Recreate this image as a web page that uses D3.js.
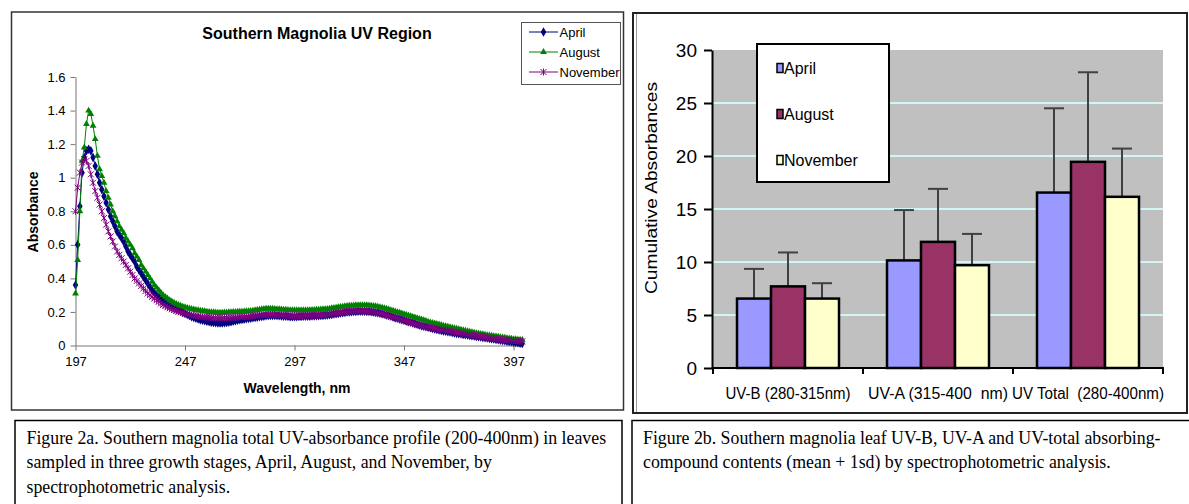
<!DOCTYPE html>
<html>
<head>
<meta charset="utf-8">
<script src="https://cdn.jsdelivr.net/npm/d3@7/dist/d3.min.js"></script>
<style>
body { margin: 0; background: #fff; }
svg { display: block; }
text { font-family: "Liberation Sans", Arial, sans-serif; }
.caption { font-family: "Liberation Serif", "Times New Roman", serif; }
</style>
</head>
<body>
<svg id="fig" width="1189" height="504"></svg>
<script>
// ---- figure 2a data: absorbance, one reading per nm from 197 to 401 ----
var wavelengths = d3.range(197, 402);

var april = [
  0.36, 0.60, 0.83, 1.03, 1.12, 1.16, 1.17, 1.16, 1.12, 1.07,
  1.02, 0.97, 0.93, 0.89, 0.85, 0.81, 0.77, 0.74, 0.71, 0.68,
  0.66, 0.64, 0.62, 0.59, 0.56, 0.54, 0.52, 0.50, 0.47, 0.45,
  0.43, 0.41, 0.39, 0.37, 0.35, 0.33, 0.315, 0.30, 0.29, 0.28,
  0.27, 0.26, 0.25, 0.24, 0.232, 0.225, 0.218, 0.21, 0.203, 0.197,
  0.19, 0.184, 0.178, 0.172, 0.167, 0.162, 0.158, 0.154, 0.15, 0.147,
  0.144, 0.141, 0.139, 0.137, 0.135, 0.134, 0.134, 0.134, 0.135, 0.137,
  0.139, 0.141, 0.144, 0.147, 0.15, 0.153, 0.155, 0.157, 0.159, 0.161,
  0.163, 0.165, 0.167, 0.169, 0.171, 0.173, 0.175, 0.177, 0.178, 0.179,
  0.179, 0.179, 0.178, 0.177, 0.176, 0.175, 0.174, 0.173, 0.172, 0.172,
  0.172, 0.172, 0.173, 0.173, 0.174, 0.174, 0.175, 0.175, 0.176, 0.176,
  0.177, 0.177, 0.178, 0.179, 0.18, 0.181, 0.183, 0.185, 0.187, 0.189,
  0.191, 0.193, 0.195, 0.197, 0.199, 0.2, 0.201, 0.202, 0.203, 0.204,
  0.204, 0.204, 0.204, 0.203, 0.202, 0.201, 0.199, 0.197, 0.195, 0.192,
  0.189, 0.186, 0.182, 0.178, 0.174, 0.17, 0.166, 0.162, 0.158, 0.154,
  0.15, 0.146, 0.142, 0.138, 0.134, 0.13, 0.126, 0.122, 0.118, 0.114,
  0.111, 0.108, 0.105, 0.102, 0.099, 0.096, 0.093, 0.09, 0.087, 0.085,
  0.082, 0.08, 0.077, 0.075, 0.072, 0.07, 0.068, 0.066, 0.064, 0.062,
  0.06, 0.058, 0.056, 0.054, 0.052, 0.05, 0.048, 0.046, 0.044, 0.042,
  0.04, 0.038, 0.036, 0.034, 0.032, 0.03, 0.028, 0.026, 0.024, 0.022,
  0.02, 0.018, 0.016, 0.014, 0.012
];

var august = [
  0.31, 0.51, 0.80, 1.10, 1.18, 1.32, 1.40, 1.38, 1.31, 1.23,
  1.13, 1.05, 1.01, 0.97, 0.92, 0.88, 0.84, 0.80, 0.77, 0.74,
  0.71, 0.69, 0.67, 0.64, 0.62, 0.60, 0.58, 0.55, 0.53, 0.51,
  0.48, 0.46, 0.44, 0.42, 0.40, 0.38, 0.36, 0.345, 0.33, 0.315,
  0.30, 0.29, 0.28, 0.27, 0.262, 0.255, 0.248, 0.242, 0.237, 0.232,
  0.228, 0.224, 0.221, 0.218, 0.215, 0.212, 0.21, 0.208, 0.206, 0.204,
  0.202, 0.2, 0.199, 0.198, 0.197, 0.196, 0.196, 0.196, 0.197, 0.197,
  0.198, 0.199, 0.2, 0.2, 0.201, 0.202, 0.202, 0.203, 0.204, 0.205,
  0.206, 0.208, 0.21, 0.212, 0.214, 0.216, 0.218, 0.219, 0.22, 0.22,
  0.219, 0.218, 0.217, 0.216, 0.215, 0.214, 0.213, 0.212, 0.211, 0.211,
  0.21, 0.21, 0.21, 0.21, 0.21, 0.21, 0.211, 0.211, 0.212, 0.212,
  0.213, 0.214, 0.215, 0.216, 0.217, 0.218, 0.22, 0.222, 0.224, 0.226,
  0.228, 0.23, 0.232, 0.234, 0.236, 0.237, 0.238, 0.239, 0.24, 0.24,
  0.241, 0.241, 0.241, 0.24, 0.239, 0.238, 0.236, 0.234, 0.232, 0.229,
  0.226, 0.223, 0.219, 0.215, 0.211, 0.207, 0.203, 0.199, 0.195, 0.191,
  0.187, 0.183, 0.179, 0.175, 0.171, 0.167, 0.163, 0.159, 0.155, 0.151,
  0.147, 0.142, 0.138, 0.134, 0.131, 0.128, 0.125, 0.122, 0.118, 0.115,
  0.112, 0.109, 0.106, 0.103, 0.1, 0.097, 0.094, 0.091, 0.088, 0.085,
  0.082, 0.079, 0.077, 0.074, 0.072, 0.069, 0.067, 0.064, 0.062, 0.06,
  0.058, 0.056, 0.054, 0.052, 0.05, 0.048, 0.046, 0.044, 0.042, 0.04,
  0.038, 0.037, 0.035, 0.034, 0.033
];

var november = [
  0.80, 0.94, 1.03, 1.09, 1.11, 1.10, 1.07, 1.02, 0.97, 0.92,
  0.88, 0.84, 0.80, 0.76, 0.72, 0.68, 0.65, 0.62, 0.59, 0.56,
  0.54, 0.52, 0.50, 0.48, 0.46, 0.44, 0.42, 0.40, 0.385, 0.37,
  0.355, 0.34, 0.325, 0.31, 0.30, 0.29, 0.28, 0.27, 0.26, 0.25,
  0.242, 0.235, 0.228, 0.222, 0.216, 0.211, 0.206, 0.202, 0.198, 0.194,
  0.19, 0.187, 0.184, 0.181, 0.179, 0.177, 0.175, 0.173, 0.171, 0.17,
  0.169, 0.168, 0.167, 0.166, 0.165, 0.165, 0.165, 0.165, 0.165, 0.166,
  0.166, 0.167, 0.168, 0.168, 0.169, 0.17, 0.171, 0.172, 0.173, 0.174,
  0.175, 0.176, 0.178, 0.18, 0.181, 0.182, 0.183, 0.184, 0.185, 0.185,
  0.185, 0.184, 0.183, 0.182, 0.181, 0.18, 0.179, 0.178, 0.178, 0.177,
  0.177, 0.177, 0.177, 0.177, 0.178, 0.178, 0.178, 0.179, 0.179, 0.18,
  0.18, 0.181, 0.182, 0.183, 0.184, 0.185, 0.187, 0.189, 0.191, 0.193,
  0.195, 0.197, 0.199, 0.201, 0.203, 0.204, 0.205, 0.206, 0.207, 0.207,
  0.207, 0.207, 0.206, 0.205, 0.204, 0.202, 0.2, 0.198, 0.195, 0.192,
  0.189, 0.185, 0.181, 0.177, 0.173, 0.169, 0.165, 0.161, 0.157, 0.153,
  0.149, 0.145, 0.141, 0.137, 0.133, 0.129, 0.125, 0.121, 0.118, 0.115,
  0.112, 0.109, 0.107, 0.105, 0.102, 0.099, 0.097, 0.094, 0.092, 0.089,
  0.087, 0.084, 0.082, 0.08, 0.078, 0.076, 0.073, 0.071, 0.068, 0.066,
  0.064, 0.062, 0.06, 0.058, 0.056, 0.054, 0.052, 0.05, 0.048, 0.046,
  0.044, 0.042, 0.04, 0.038, 0.036, 0.034, 0.033, 0.032, 0.031, 0.03,
  0.029, 0.028, 0.027, 0.026, 0.025
];

var lineTicksX = [197, 247, 297, 347, 397];
var lineTicksY = [0, 0.2, 0.4, 0.6, 0.8, 1, 1.2, 1.4, 1.6];

// ---- figure 2b data: cumulative absorbance, mean and 1 sd ----
var bandCats = ["UV-B (280-315nm)", "UV-A (315-400  nm)", "UV Total  (280-400nm)"];
var months = ["April", "August", "November"];
var meanApril = [6.55, 10.15, 16.55];
var meanAugust = [7.7, 11.9, 19.45];
var meanNovember = [6.55, 9.7, 16.15];
var sdApril = [2.8, 4.75, 7.95];
var sdAugust = [3.2, 5.0, 8.45];
var sdNovember = [1.45, 2.95, 4.55];
var barTicksY = [0, 5, 10, 15, 20, 25, 30];

var captionA = [
  "Figure 2a. Southern magnolia total UV-absorbance profile (200-400nm) in leaves",
  "sampled in three growth stages, April, August, and November, by",
  "spectrophotometric analysis."
];
var captionB = [
  "Figure 2b. Southern magnolia leaf UV-B, UV-A and UV-total absorbing-",
  "compound contents (mean + 1sd) by spectrophotometric analysis."
];

var svg = d3.select("#fig");

function draw_line_chart() {
  var g = svg.append("g").attr("class", "fig-a");

  g.append("rect")
    .attr("x", 11.5).attr("y", 12)
    .attr("width", 612).attr("height", 398)
    .attr("fill", "#fff").attr("stroke", "#333").attr("stroke-width", 1.5);

  var x = d3.scaleLinear().domain([197, 401]).range([75.5, 522.3]);
  var y = d3.scaleLinear().domain([0, 1.6]).range([345.5, 77]);

  var xAxis = g.append("g")
    .attr("transform", "translate(0," + y(0) + ")")
    .call(d3.axisBottom(x).tickValues(lineTicksX).tickSize(5).tickSizeOuter(0).tickPadding(6));
  var yAxis = g.append("g")
    .attr("transform", "translate(" + x(197) + ",0)")
    .call(d3.axisLeft(y).tickValues(lineTicksY).tickSize(5).tickSizeOuter(0).tickPadding(5)
      .tickFormat(function(d) { return String(d); }));

  [xAxis, yAxis].forEach(function(ax) {
    ax.select(".domain").attr("stroke", "#777");
    ax.selectAll(".tick line").attr("stroke", "#777");
    ax.selectAll(".tick text").attr("font-size", "13px").attr("fill", "#000")
      .attr("font-family", "Liberation Sans, Arial, sans-serif");
  });

  var series = [
    { name: "April", values: april, color: "#000080", mark: "diamond" },
    { name: "August", values: august, color: "#008000", mark: "triangle" },
    { name: "November", values: november, color: "#800080", mark: "star" }
  ];

  var line = d3.line()
    .x(function(d, i) { return x(wavelengths[i]); })
    .y(function(d) { return y(d); });

  var diamond = d3.symbol().type(d3.symbolDiamond).size(26)();
  var triangle = d3.symbol().type(d3.symbolTriangle).size(20)();
  var star = "M-3,-3L3,3M-3,3L3,-3M0,-3.5V3.5";

  function add_marker(sel, s) {
    if (s.mark == "diamond") {
      sel.append("path").attr("d", diamond).attr("fill", s.color);
    } else if (s.mark == "triangle") {
      sel.append("path").attr("d", triangle).attr("fill", s.color);
    } else {
      sel.append("path").attr("d", star).attr("fill", "none")
        .attr("stroke", s.color).attr("stroke-width", 1);
    }
  }

  series.forEach(function(s) {
    g.append("path")
      .datum(s.values)
      .attr("d", line)
      .attr("fill", "none")
      .attr("stroke", s.color)
      .attr("stroke-width", 1);

    var pts = g.append("g").selectAll("g")
      .data(s.values)
      .enter().append("g")
      .attr("transform", function(d, i) { return "translate(" + x(wavelengths[i]) + "," + y(d) + ")"; });
    add_marker(pts, s);
  });

  g.append("text")
    .attr("x", 317).attr("y", 38.5)
    .attr("text-anchor", "middle")
    .attr("font-size", "16px").attr("font-weight", "bold")
    .text("Southern Magnolia UV Region");

  g.append("text")
    .attr("x", 297).attr("y", 392.5)
    .attr("text-anchor", "middle")
    .attr("font-size", "14px").attr("font-weight", "bold")
    .text("Wavelength, nm");

  g.append("text")
    .attr("transform", "translate(33,212) rotate(-90)")
    .attr("dy", "0.35em")
    .attr("text-anchor", "middle")
    .attr("font-size", "14px").attr("font-weight", "bold")
    .text("Absorbance");

  // legend
  var leg = g.append("g");
  leg.append("rect")
    .attr("x", 521.5).attr("y", 22.5).attr("width", 99).attr("height", 62)
    .attr("fill", "#fff").attr("stroke", "#555").attr("stroke-width", 1);
  series.forEach(function(s, i) {
    var ly = 32 + i * 20;
    leg.append("line")
      .attr("x1", 529).attr("x2", 558).attr("y1", ly).attr("y2", ly)
      .attr("stroke", s.color).attr("stroke-width", 1);
    add_marker(leg.append("g").attr("transform", "translate(543.5," + ly + ")"), s);
    leg.append("text")
      .attr("x", 559.5).attr("y", ly).attr("dy", "0.35em")
      .attr("font-size", "13px")
      .text(s.name);
  });
}

function draw_bar_chart() {
  var g = svg.append("g").attr("class", "fig-b");

  g.append("rect")
    .attr("x", 633).attr("y", 13)
    .attr("width", 554).attr("height", 400)
    .attr("fill", "#fff").attr("stroke", "#222").attr("stroke-width", 2);
  g.append("line")
    .attr("x1", 636.5).attr("x2", 636.5).attr("y1", 14).attr("y2", 412)
    .attr("stroke", "#999").attr("stroke-width", 1);

  var x0 = d3.scaleBand().domain(bandCats).range([713, 1163]);
  var x1 = d3.scaleBand().domain(months).range([24, 126]);
  var y = d3.scaleLinear().domain([0, 30]).range([368, 50]);

  g.append("rect")
    .attr("x", 713).attr("y", y(30))
    .attr("width", 450).attr("height", y(0) - y(30))
    .attr("fill", "#c0c0c0");

  g.append("g").selectAll("line")
    .data(barTicksY.slice(1, -1))
    .enter().append("line")
    .attr("x1", 713).attr("x2", 1163)
    .attr("y1", function(d) { return y(d); })
    .attr("y2", function(d) { return y(d); })
    .attr("stroke", "#d2f6f6").attr("stroke-width", 2);

  var colors = { April: "#9999ff", August: "#993366", November: "#ffffcc" };
  var means = { April: meanApril, August: meanAugust, November: meanNovember };
  var sds = { April: sdApril, August: sdAugust, November: sdNovember };

  var rows = [];
  bandCats.forEach(function(c, ci) {
    months.forEach(function(m) {
      rows.push({ cat: c, month: m, mean: means[m][ci], sd: sds[m][ci] });
    });
  });

  // error bars go behind the bars, only the upper half shows
  var err = g.append("g").selectAll("g").data(rows).enter().append("g");
  err.append("line")
    .attr("x1", function(d) { return x0(d.cat) + x1(d.month) + x1.bandwidth() / 2; })
    .attr("x2", function(d) { return x0(d.cat) + x1(d.month) + x1.bandwidth() / 2; })
    .attr("y1", function(d) { return y(d.mean); })
    .attr("y2", function(d) { return y(d.mean + d.sd); })
    .attr("stroke", "#404040").attr("stroke-width", 2);
  err.append("line")
    .attr("x1", function(d) { return x0(d.cat) + x1(d.month) + x1.bandwidth() / 2 - 10; })
    .attr("x2", function(d) { return x0(d.cat) + x1(d.month) + x1.bandwidth() / 2 + 10; })
    .attr("y1", function(d) { return y(d.mean + d.sd); })
    .attr("y2", function(d) { return y(d.mean + d.sd); })
    .attr("stroke", "#404040").attr("stroke-width", 2);

  g.append("g").selectAll("rect").data(rows).enter().append("rect")
    .attr("x", function(d) { return x0(d.cat) + x1(d.month); })
    .attr("y", function(d) { return y(d.mean); })
    .attr("width", x1.bandwidth())
    .attr("height", function(d) { return y(0) - y(d.mean); })
    .attr("fill", function(d) { return colors[d.month]; })
    .attr("stroke", "#000").attr("stroke-width", 2.5);

  var yAxis = g.append("g")
    .attr("transform", "translate(712,0)")
    .call(d3.axisLeft(y).tickValues(barTicksY).tickSize(8).tickSizeOuter(0).tickPadding(7));
  yAxis.select(".domain").attr("stroke", "#000").attr("stroke-width", 2);
  yAxis.selectAll(".tick line").attr("stroke", "#000").attr("stroke-width", 2);
  yAxis.selectAll(".tick text").attr("font-size", "19px").attr("fill", "#000")
    .attr("font-family", "Liberation Sans, Arial, sans-serif");

  // category axis: ticks sit on the band edges, labels in the middle
  var xAxis = g.append("g");
  xAxis.append("line")
    .attr("x1", 712).attr("x2", 1164).attr("y1", y(0)).attr("y2", y(0))
    .attr("stroke", "#000").attr("stroke-width", 2);
  var edges = bandCats.map(function(c) { return x0(c); }).concat([x0.range()[1]]);
  xAxis.selectAll("line.edge").data(edges).enter().append("line")
    .attr("class", "edge")
    .attr("x1", function(d) { return d; }).attr("x2", function(d) { return d; })
    .attr("y1", y(0)).attr("y2", y(0) + 6)
    .attr("stroke", "#000").attr("stroke-width", 2);
  var labelWidths = [125, 140, 152];
  xAxis.selectAll("text").data(bandCats).enter().append("text")
    .attr("x", function(d) { return x0(d) + x0.bandwidth() / 2; })
    .attr("y", 399)
    .attr("text-anchor", "middle")
    .attr("font-size", "16px")
    .attr("textLength", function(d, i) { return labelWidths[i]; })
    .attr("lengthAdjust", "spacingAndGlyphs")
    .style("white-space", "pre")
    .text(function(d) { return d; });

  g.append("text")
    .attr("transform", "translate(651,188) rotate(-90)")
    .attr("dy", "0.35em")
    .attr("text-anchor", "middle")
    .attr("font-size", "16px")
    .attr("textLength", 212)
    .attr("lengthAdjust", "spacingAndGlyphs")
    .text("Cumulative  Absorbances");

  // legend
  var leg = g.append("g");
  leg.append("rect")
    .attr("x", 757).attr("y", 44).attr("width", 132).attr("height", 138)
    .attr("fill", "#fff").attr("stroke", "#000").attr("stroke-width", 2);
  months.forEach(function(m, i) {
    var ly = 68 + i * 46;
    leg.append("rect")
      .attr("x", 777).attr("y", ly - 4.5).attr("width", 6).attr("height", 9)
      .attr("fill", colors[m]).attr("stroke", "#000").attr("stroke-width", 1.5);
    leg.append("text")
      .attr("x", 784).attr("y", ly).attr("dy", "0.35em")
      .attr("font-size", "16px")
      .text(m);
  });
}

function draw_captions() {
  var g = svg.append("g").attr("class", "captions");
  g.append("rect")
    .attr("x", 15).attr("y", 420.5).attr("width", 607).attr("height", 100)
    .attr("fill", "#fff").attr("stroke", "#000").attr("stroke-width", 1.5);
  g.append("rect")
    .attr("x", 632).attr("y", 420.5).attr("width", 570).attr("height", 100)
    .attr("fill", "#fff").attr("stroke", "#000").attr("stroke-width", 1.5);

  var a = g.selectAll("text.ca").data(captionA).enter().append("text")
    .attr("class", "caption ca")
    .attr("x", 26.5)
    .attr("y", function(d, i) { return 443.5 + i * 24.5; })
    .attr("font-size", "17px")
    .text(function(d) { return d; });
  var b = g.selectAll("text.cb").data(captionB).enter().append("text")
    .attr("class", "caption cb")
    .attr("x", 643)
    .attr("y", function(d, i) { return 443.5 + i * 24.5; })
    .attr("font-size", "17px")
    .text(function(d) { return d; });

  // the scanned caption font runs wide, scale the size to the first line
  var w = a.node().getComputedTextLength();
  var fs = 17 * 580 / w;
  a.attr("font-size", fs + "px");
  b.attr("font-size", fs + "px");
}

draw_line_chart();
draw_bar_chart();
draw_captions();
</script>
</body>
</html>
